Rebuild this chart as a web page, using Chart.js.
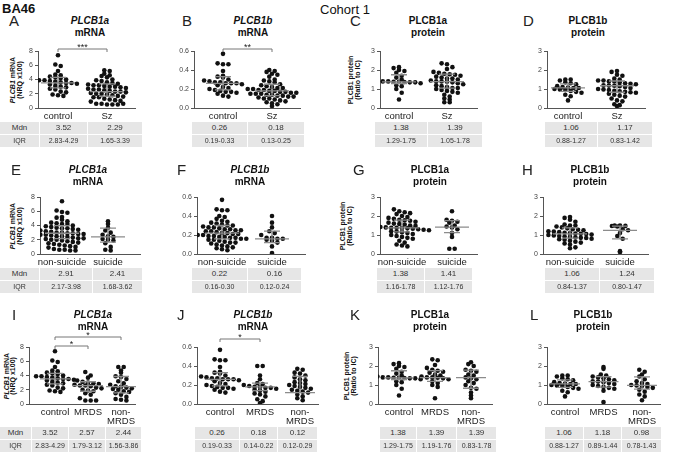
<!DOCTYPE html>
<html>
<head>
<meta charset="utf-8">
<script src="https://cdn.jsdelivr.net/npm/chart.js@4.4.0/dist/chart.umd.min.js"></script>
<style>
body{margin:0;background:#fff;font-family:'Liberation Sans',Arial,sans-serif;}
#wrap{position:relative;width:675px;height:455px;overflow:hidden;background:#fff;}
.t{position:absolute;white-space:nowrap;color:#111;}
.cell{position:absolute;background:#e6e6e6;color:#333;text-align:center;box-sizing:border-box;}
.ytitle{position:absolute;white-space:nowrap;text-align:center;font-weight:bold;font-size:7px;line-height:7px;color:#111;transform:translate(-50%,-50%) rotate(-90deg);}
</style>
</head>
<body>
<div id="wrap"></div>
<script>
// ---- data ----
var ctrlA = [7.4,6.1,5.9,5.2,4.7,4.6,4.4,4.3,4.2,4.0,3.9,3.9,3.8,3.7,3.6,3.5,3.5,3.4,3.3,3.1,3.0,2.9,2.7,2.6,2.3,2.2,1.9,1.8,1.7];
var szA = [5.3,5.2,4.8,4.6,4.5,4.3,4.0,3.9,3.8,3.6,3.5,3.4,3.3,3.2,3.2,3.1,3.0,3.0,2.9,2.8,2.7,2.6,2.6,2.5,2.4,2.3,2.3,2.2,2.1,2.0,2.0,1.9,1.8,1.7,1.6,1.5,1.5,1.3,1.2,1.1,1.0,0.9,0.6,0.6,0.5,0.5,0.5,0.6];
var ctrlB = [0.57,0.47,0.46,0.46,0.39,0.34,0.33,0.32,0.30,0.29,0.28,0.27,0.27,0.26,0.26,0.26,0.25,0.24,0.22,0.21,0.20,0.19,0.18,0.17,0.17,0.16,0.15,0.13,0.12];
var szB = [0.40,0.39,0.38,0.36,0.35,0.33,0.30,0.29,0.28,0.27,0.25,0.24,0.23,0.22,0.21,0.21,0.20,0.20,0.19,0.19,0.18,0.18,0.17,0.17,0.16,0.16,0.15,0.15,0.15,0.14,0.14,0.13,0.13,0.12,0.12,0.11,0.10,0.10,0.09,0.08,0.07,0.06,0.05,0.04,0.02];
var ctrlC = [2.15,2.1,2.0,1.95,1.85,1.7,1.6,1.5,1.45,1.4,1.4,1.38,1.38,1.37,1.35,1.35,1.3,1.2,1.15,1.0,0.8,0.45];
var szC = [2.35,2.3,2.15,2.05,1.9,1.85,1.8,1.78,1.75,1.7,1.65,1.6,1.55,1.55,1.5,1.45,1.4,1.4,1.38,1.35,1.3,1.25,1.2,1.15,1.1,1.05,1.05,1.0,0.95,0.9,0.85,0.8,0.7,0.6,0.5,0.45,0.3,0.3];
var ctrlD = [1.5,1.5,1.45,1.35,1.3,1.25,1.15,1.1,1.07,1.05,1.05,1.0,0.98,0.95,0.9,0.85,0.8,0.7,0.62,0.4];
var szD = [1.95,1.9,1.75,1.7,1.55,1.5,1.45,1.45,1.4,1.4,1.35,1.3,1.28,1.25,1.2,1.18,1.17,1.15,1.1,1.05,1.0,0.98,0.95,0.9,0.88,0.85,0.83,0.8,0.75,0.7,0.65,0.6,0.5,0.4,0.35,0.2,0.15,0.1];
var nonSuiE = [7.4,6.1,5.9,5.8,5.2,5.1,4.8,4.6,4.4,4.3,4.2,4.2,4.0,3.9,3.8,3.7,3.6,3.6,3.5,3.4,3.3,3.2,3.1,3.0,3.0,2.9,2.9,2.8,2.8,2.7,2.7,2.6,2.5,2.5,2.4,2.3,2.2,2.2,2.1,2.0,2.0,1.9,1.8,1.7,1.6,1.5,1.4,1.3,1.2,1.1,1.0,0.9,0.7,0.6,0.6,0.5,0.5];
var suiE = [4.6,4.2,3.7,3.3,3.0,2.7,2.5,2.4,2.1,2.0,1.9,1.5,1.0,0.6,0.5];
var nonSuiF = [0.57,0.47,0.46,0.46,0.40,0.39,0.37,0.35,0.34,0.33,0.32,0.31,0.30,0.30,0.29,0.28,0.28,0.27,0.26,0.26,0.25,0.25,0.24,0.24,0.23,0.22,0.22,0.21,0.21,0.20,0.20,0.19,0.19,0.18,0.18,0.17,0.17,0.16,0.16,0.15,0.15,0.14,0.13,0.12,0.12,0.11,0.10,0.09,0.08,0.07,0.06,0.05,0.04];
var suiF = [0.40,0.33,0.28,0.24,0.22,0.20,0.17,0.17,0.16,0.16,0.15,0.14,0.12,0.08,0.01];
var nonSuiG = [2.35,2.25,2.2,2.15,2.1,2.0,1.95,1.9,1.85,1.8,1.78,1.75,1.7,1.65,1.6,1.58,1.55,1.5,1.48,1.45,1.42,1.4,1.38,1.38,1.37,1.35,1.33,1.3,1.28,1.25,1.2,1.18,1.15,1.1,1.05,1.0,0.95,0.9,0.85,0.8,0.7,0.6,0.5,0.45,0.4];
var suiG = [2.25,1.8,1.75,1.7,1.65,1.5,1.45,1.4,1.3,1.1,0.9,0.28,0.28];
var nonSuiH = [1.95,1.9,1.8,1.7,1.55,1.5,1.5,1.45,1.4,1.35,1.3,1.28,1.25,1.2,1.18,1.15,1.12,1.1,1.08,1.06,1.05,1.02,1.0,0.98,0.95,0.92,0.9,0.88,0.85,0.84,0.8,0.78,0.75,0.7,0.65,0.6,0.55,0.5,0.35,0.3];
var suiH = [1.5,1.5,1.48,1.47,1.45,1.3,1.25,1.1,0.95,0.8,0.15,0.1];
var mrdsI = [4.5,4.0,3.7,3.3,3.1,3.0,2.9,2.8,2.7,2.6,2.6,2.5,2.3,2.2,2.0,1.9,1.8,1.5,1.3,0.8,0.5,0.5,0.5];
var nonMrdsI = [5.2,5.2,4.7,4.4,3.9,3.8,3.5,3.2,2.9,2.7,2.5,2.4,2.3,2.2,2.1,2.0,1.8,1.7,1.5,1.3,1.0,0.7,0.6,0.5];
var mrdsJ = [0.40,0.40,0.30,0.26,0.22,0.21,0.20,0.19,0.18,0.18,0.17,0.17,0.16,0.15,0.14,0.13,0.11,0.10,0.08,0.05,0.03,0.01];
var nonMrdsJ = [0.37,0.36,0.33,0.32,0.30,0.28,0.26,0.25,0.23,0.22,0.21,0.20,0.19,0.18,0.17,0.16,0.15,0.14,0.13,0.12,0.10,0.08,0.06,0.04];
var mrdsK = [2.35,2.3,2.05,1.9,1.8,1.75,1.7,1.65,1.55,1.5,1.45,1.4,1.4,1.38,1.35,1.3,1.2,1.1,1.0,0.9,0.3];
var nonMrdsK = [2.2,2.1,2.0,1.8,1.75,1.7,1.55,1.5,1.4,1.35,1.3,1.2,1.1,1.0,0.85,0.8,0.6,0.45,0.3];
var mrdsL = [1.95,1.85,1.55,1.5,1.45,1.4,1.35,1.3,1.25,1.2,1.18,1.15,1.1,1.05,1.0,0.95,0.9,0.85,0.8,0.7,0.1];
var nonMrdsL = [1.8,1.7,1.55,1.45,1.3,1.2,1.1,1.05,1.0,0.98,0.95,0.9,0.85,0.75,0.65,0.5,0.4,0.2];

// medians and interquartile ranges (table values)
var mdnA = [3.52,2.29], iqrA = [[2.83,4.29],[1.65,3.39]];
var mdnB = [0.26,0.18], iqrB = [[0.19,0.33],[0.13,0.25]];
var mdnC = [1.38,1.39], iqrC = [[1.29,1.75],[1.05,1.78]];
var mdnD = [1.06,1.17], iqrD = [[0.88,1.27],[0.83,1.42]];
var mdnE = [2.91,2.41], iqrE = [[2.17,3.98],[1.68,3.62]];
var mdnF = [0.22,0.16], iqrF = [[0.16,0.30],[0.12,0.24]];
var mdnG = [1.38,1.41], iqrG = [[1.16,1.78],[1.12,1.76]];
var mdnH = [1.06,1.24], iqrH = [[0.84,1.37],[0.80,1.47]];
var mdnI = [3.52,2.57,2.44], iqrI = [[2.83,4.29],[1.79,3.12],[1.56,3.86]];
var mdnJ = [0.26,0.18,0.12], iqrJ = [[0.19,0.33],[0.14,0.22],[0.12,0.29]];
var mdnK = [1.38,1.39,1.39], iqrK = [[1.29,1.75],[1.19,1.76],[0.83,1.78]];
var mdnL = [1.06,1.18,0.98], iqrL = [[0.88,1.27],[0.89,1.44],[0.78,1.43]];

var grpSz = ['control','Sz'];
var grpSui = ['non-suicide','suicide'];
var grpMrds = ['control','MRDS','non-\nMRDS'];
var ticksMrnaA = ['0','2','4','6','8'];
var ticksMrnaB = ['0.0','0.2','0.4','0.6'];
var ticksProt = ['0','1','2','3'];

// ---- layout ----
var FONT = "'Liberation Sans', Arial, sans-serif";
var rowTop = [51,197,347], PLOT_H = 57;
var titleY = [21,170,315];
var tblTop = [122,268,427];
var wrap = document.getElementById('wrap');

var panels = [
  {id:'A',gene:'PLCB1a',kind:'mRNA',groups:grpSz,data:[ctrlA,szA],mdn:mdnA,iqr:iqrA,ticks:ticksMrnaA,row:0,ax:38,c:[58,107],end:135,tbl:[0,40,88,143],lx:9,tx:90,sig:[{a:0,b:1,lift:2,txt:'***'}]},
  {id:'B',gene:'PLCB1b',kind:'mRNA',groups:grpSz,data:[ctrlB,szB],mdn:mdnB,iqr:iqrB,ticks:ticksMrnaB,row:0,ax:194,c:[223,272],end:300,tbl:[192,248,305],lx:182,tx:253,sig:[{a:0,b:1,lift:2,txt:'**'}]},
  {id:'C',gene:'PLCB1a',kind:'protein',groups:grpSz,data:[ctrlC,szC],mdn:mdnC,iqr:iqrC,ticks:ticksProt,row:0,ax:380,c:[399,447],end:477,tbl:[375,428,483],lx:350,tx:428},
  {id:'D',gene:'PLCB1b',kind:'protein',groups:grpSz,data:[ctrlD,szD],mdn:mdnD,iqr:iqrD,ticks:ticksProt,row:0,ax:547,c:[568,617],end:645,tbl:[545,598,653],lx:523,tx:588},
  {id:'E',gene:'PLCB1a',kind:'mRNA',groups:grpSui,data:[nonSuiE,suiE],mdn:mdnE,iqr:iqrE,ticks:ticksMrnaA,row:1,ax:40,c:[62,108],end:140,tbl:[0,40,93,143],lx:11,tx:88},
  {id:'F',gene:'PLCB1b',kind:'mRNA',groups:grpSui,data:[nonSuiF,suiF],mdn:mdnF,iqr:iqrF,ticks:ticksMrnaB,row:1,ax:197,c:[222,272],end:305,tbl:[192,248,302],lx:177,tx:250},
  {id:'G',gene:'PLCB1a',kind:'protein',groups:grpSui,data:[nonSuiG,suiG],mdn:mdnG,iqr:iqrG,ticks:ticksProt,row:1,ax:380,c:[402,452],end:477,tbl:[377,425,473],lx:353,tx:430},
  {id:'H',gene:'PLCB1b',kind:'protein',groups:grpSui,data:[nonSuiH,suiH],mdn:mdnH,iqr:iqrH,ticks:ticksProt,row:1,ax:543,c:[570,620],end:648,tbl:[545,600,655],lx:522,tx:590},
  {id:'I',gene:'PLCB1a',kind:'mRNA',groups:grpMrds,data:[ctrlA,mrdsI,nonMrdsI],mdn:mdnI,iqr:iqrI,ticks:ticksMrnaA,row:2,ax:29,c:[55,88,121],end:135,tbl:[0,32,69,106,142],lx:12,tx:93,sig:[{a:0,b:1,lift:1,txt:'*'},{a:0,b:2,lift:10,txt:'*'}]},
  {id:'J',gene:'PLCB1b',kind:'mRNA',groups:grpMrds,data:[ctrlB,mrdsJ,nonMrdsJ],mdn:mdnJ,iqr:iqrJ,ticks:ticksMrnaB,row:2,ax:197,c:[220,260,300],end:318,tbl:[195,240,278,318],lx:177,tx:253,sig:[{a:0,b:1,lift:8,txt:'*'}]},
  {id:'K',gene:'PLCB1a',kind:'protein',groups:grpMrds,data:[ctrlC,mrdsK,nonMrdsK],mdn:mdnK,iqr:iqrK,ticks:ticksProt,row:2,ax:378,c:[399,435,471],end:492,tbl:[380,417,457,497],lx:350,tx:430},
  {id:'L',gene:'PLCB1b',kind:'protein',groups:grpMrds,data:[ctrlD,mrdsL,nonMrdsL],mdn:mdnL,iqr:iqrL,ticks:ticksProt,row:2,ax:547,c:[565,603,642],end:660,tbl:[545,584,622,662],lx:530,tx:593}
];

var yTitles = [
  {kind:'mRNA',x:[12,19],row:0},{kind:'mRNA',x:[12,19],row:1},{kind:'mRNA',x:[6,12],row:2},
  {kind:'protein',x:[350,357],row:0},{kind:'protein',x:[342,349],row:1},{kind:'protein',x:[346,353],row:2}
];

function addText(html, css) {
  var d = document.createElement('div');
  d.className = 't';
  d.style.cssText = css;
  d.innerHTML = html;
  wrap.appendChild(d);
  return d;
}

// bee-swarm placement: points in the same value band are spread side by side
function swarm(vals, center, band, dx) {
  var bins = {}, pts = [];
  vals.forEach(function(v){
    var k = Math.round(v / band);
    (bins[k] = bins[k] || []).push(v);
  });
  Object.keys(bins).forEach(function(k){
    var row = bins[k], n = row.length;
    row.forEach(function(v, i){ pts.push({x: center + (i - (n - 1) / 2) * dx, y: v}); });
  });
  return pts;
}

addText('BA46', 'left:2px;top:1px;font-size:13px;font-weight:bold;');
addText('Cohort 1', 'left:320px;top:2px;font-size:13px;');

yTitles.forEach(function(t){
  var yc = rowTop[t.row] + PLOT_H / 2;
  var l1 = t.kind === 'mRNA' ? '<i>PLCB1</i> mRNA' : 'PLCB1 protein';
  var l2 = t.kind === 'mRNA' ? '(NRQ x100)' : '(Ratio to IC)';
  [l1, l2].forEach(function(s, i){
    var d = document.createElement('div');
    d.className = 'ytitle';
    d.style.left = t.x[i] + 'px';
    d.style.top = yc + 'px';
    d.innerHTML = s;
    wrap.appendChild(d);
  });
});

panels.forEach(function(p){
  var ty = titleY[p.row];
  addText(p.id, 'left:' + p.lx + 'px;top:' + (ty - 8) + 'px;font-size:15px;line-height:16px;color:#222;');
  var g = p.kind === 'mRNA' ? '<i>' + p.gene + '</i>' : p.gene;
  addText(g, 'left:' + p.tx + 'px;top:' + (ty - 6) + 'px;font-size:10px;line-height:12px;font-weight:bold;transform:translateX(-50%);');
  addText(p.kind, 'left:' + p.tx + 'px;top:' + (ty + 6) + 'px;font-size:10px;line-height:12px;font-weight:bold;transform:translateX(-50%);');

  // chart
  var YW = 24, PADT = 22, PADR = 16;
  var twoLine = p.groups.some(function(s){ return s.indexOf('\n') >= 0; });
  var xH = twoLine ? 30 : 17;
  var w = YW + (p.end - p.ax) + PADR, h = PADT + PLOT_H + xH;
  var cv = document.createElement('canvas');
  cv.width = w; cv.height = h;
  cv.style.cssText = 'position:absolute;left:' + (p.ax - YW) + 'px;top:' + (rowTop[p.row] - PADT) + 'px;width:' + w + 'px;height:' + h + 'px;';
  wrap.appendChild(cv);

  var n = p.groups.length;
  var unit = (p.c[n - 1] - p.c[0]) / (n - 1);
  var xmin = 1 - (p.c[0] - p.ax) / unit, xmax = 1 + (p.end - p.c[0]) / unit;
  var ymax = parseFloat(p.ticks[p.ticks.length - 1]);
  var band = ymax * 4.3 / PLOT_H, dx = 5.4 / unit;

  var datasets = p.data.map(function(vals, i){
    return {data: swarm(vals, i + 1, band, dx), pointRadius: 2.3, pointHoverRadius: 2.3,
            backgroundColor: '#111', borderWidth: 0};
  });

  new Chart(cv, {
    type: 'scatter',
    data: {datasets: datasets},
    options: {
      responsive: false, animation: false, devicePixelRatio: 1,
      layout: {padding: {top: PADT, right: PADR, left: 0, bottom: 0}},
      plugins: {legend: {display: false}, tooltip: {enabled: false}},
      scales: {
        x: {
          type: 'linear', min: xmin, max: xmax,
          afterBuildTicks: function(s){ s.ticks = p.groups.map(function(g, i){ return {value: i + 1}; }); },
          afterFit: function(s){ s.height = xH; },
          ticks: {autoSkip: false, maxRotation: 0, padding: 4, color: '#222',
                  font: {size: 9.5, family: FONT, lineHeight: 0.95},
                  callback: function(v){ var s = p.groups[Math.round(v) - 1] || ''; return s.indexOf('\n') >= 0 ? s.split('\n') : s; }},
          grid: {display: true, drawOnChartArea: false, drawTicks: false},
          border: {display: true, color: '#555', width: 1}
        },
        y: {
          min: 0, max: ymax,
          afterBuildTicks: function(s){ s.ticks = p.ticks.map(function(t){ return {value: parseFloat(t)}; }); },
          afterFit: function(s){ s.width = YW; },
          ticks: {padding: 2, color: '#444', font: {size: 7, family: FONT},
                  callback: function(v, i){ return p.ticks[i]; }},
          grid: {display: true, drawOnChartArea: false, drawTicks: true, tickLength: 3, color: '#555'},
          border: {display: true, color: '#555', width: 1}
        }
      }
    },
    plugins: [{
      id: 'stats',
      afterDatasetsDraw: function(ch){
        var ctx = ch.ctx, xs = ch.scales.x, ys = ch.scales.y;
        ctx.save();
        ctx.strokeStyle = '#8c8c8c'; ctx.lineWidth = 1.3;
        var hw = n === 3 ? 15 : 17, cw = 8;
        p.mdn.forEach(function(m, i){
          var xc = xs.getPixelForValue(i + 1), ym = ys.getPixelForValue(m);
          var q1 = ys.getPixelForValue(p.iqr[i][0]), q3 = ys.getPixelForValue(p.iqr[i][1]);
          ctx.beginPath();
          ctx.moveTo(xc - hw, ym); ctx.lineTo(xc + hw, ym);
          ctx.moveTo(xc - cw, q1); ctx.lineTo(xc + cw, q1);
          ctx.moveTo(xc - cw, q3); ctx.lineTo(xc + cw, q3);
          ctx.moveTo(xc, q1); ctx.lineTo(xc, q3);
          ctx.stroke();
        });
        (p.sig || []).forEach(function(s){
          var x1 = xs.getPixelForValue(s.a + 1), x2 = xs.getPixelForValue(s.b + 1);
          var y = ch.chartArea.top - s.lift;
          ctx.strokeStyle = '#777'; ctx.lineWidth = 1;
          ctx.beginPath();
          ctx.moveTo(x1, y + 3); ctx.lineTo(x1, y); ctx.lineTo(x2, y); ctx.lineTo(x2, y + 3);
          ctx.stroke();
          ctx.fillStyle = '#222'; ctx.font = '9px ' + FONT; ctx.textAlign = 'center';
          ctx.fillText(s.txt, (x1 + x2) / 2, y + 1);
        });
        ctx.restore();
      }
    }]
  });

  // table of median and IQR
  var rows = [p.mdn.map(function(v){ return v.toFixed(2); }),
              p.iqr.map(function(q){ return q[0].toFixed(2) + '-' + q[1].toFixed(2); })];
  var hasLab = p.tbl.length === n + 2;
  var labels = ['Mdn', 'IQR'];
  rows.forEach(function(r, ri){
    var cells = hasLab ? [labels[ri]].concat(r) : r;
    cells.forEach(function(txt, ci){
      var d = document.createElement('div');
      d.className = 'cell';
      var x0 = p.tbl[ci], x1 = p.tbl[ci + 1];
      d.style.cssText = 'left:' + x0 + 'px;top:' + (tblTop[p.row] + ri * 13) + 'px;width:' + (x1 - x0 - 1) + 'px;height:12px;line-height:12px;font-size:' + (ri === 0 ? 8 : 7) + 'px;';
      d.textContent = txt;
      wrap.appendChild(d);
    });
  });
});
</script>
</body>
</html>
